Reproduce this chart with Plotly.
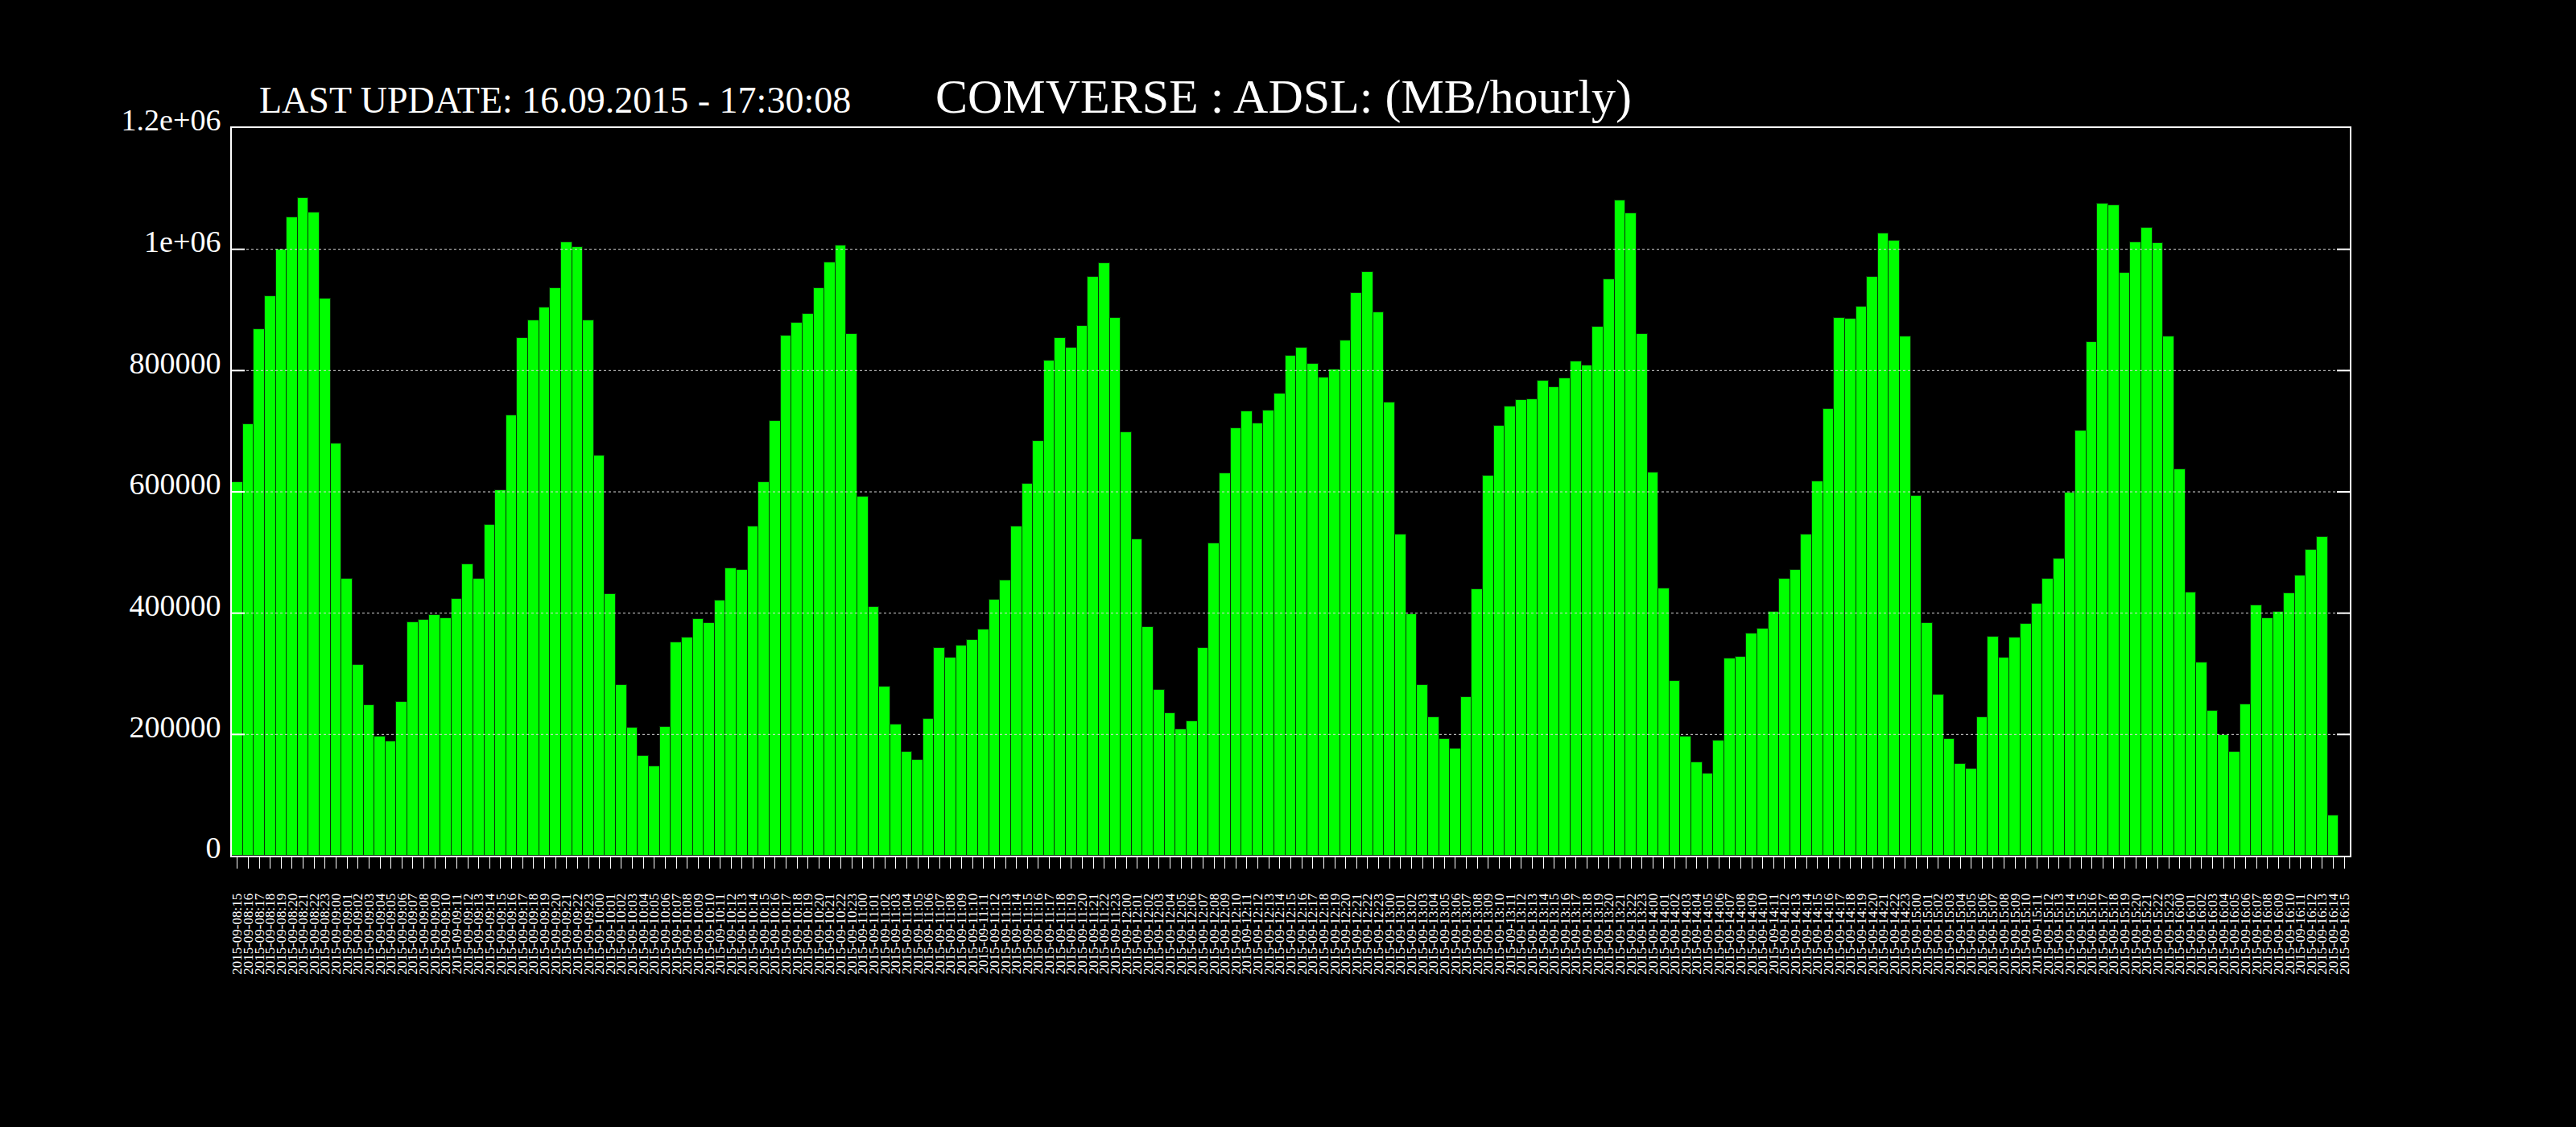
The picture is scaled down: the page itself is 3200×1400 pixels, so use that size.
import plotly.graph_objects as go

# Hourly traffic (MB), one list per calendar day
sep08 = [616000, 712000, 868000, 922000, 1000000, 1053000, 1085000, 1060000, 918000]  # hours 15-23
sep09 = [679000, 456000, 314000, 248000, 197000, 188000, 254000, 385000, 389000, 397000, 392000, 424000,
         481000, 456000, 545000, 602000, 726000, 853000, 883000, 904000, 936000, 1011000, 1004000, 883000]
sep10 = [660000, 431000, 282000, 211000, 164000, 147000, 213000, 352000, 360000, 390000, 383000, 421000,
         474000, 471000, 543000, 616000, 717000, 858000, 879000, 894000, 936000, 978000, 1006000, 860000]
sep11 = [592000, 410000, 279000, 216000, 171000, 158000, 226000, 343000, 326000, 347000, 356000, 373000,
         422000, 454000, 543000, 613000, 684000, 817000, 853000, 837000, 873000, 954000, 977000, 887000]
sep12 = [698000, 522000, 377000, 273000, 235000, 208000, 222000, 343000, 515000, 630000, 705000, 733000,
         713000, 734000, 762000, 825000, 837000, 811000, 788000, 802000, 849000, 928000, 962000, 896000]
sep13 = [748000, 530000, 398000, 282000, 228000, 192000, 177000, 262000, 439000, 627000, 709000, 741000,
         751000, 752000, 783000, 772000, 787000, 815000, 808000, 872000, 951000, 1081000, 1059000, 860000]
sep14 = [632000, 441000, 288000, 197000, 154000, 136000, 190000, 325000, 328000, 366000, 375000, 402000,
         456000, 471000, 530000, 617000, 737000, 887000, 886000, 905000, 954000, 1026000, 1014000, 856000]
sep15 = [594000, 383000, 265000, 192000, 151000, 143000, 228000, 361000, 326000, 360000, 382000, 415000,
         456000, 490000, 599000, 701000, 847000, 1075000, 1072000, 961000, 1011000, 1036000, 1010000, 856000]
sep16 = [637000, 434000, 318000, 239000, 199000, 171000, 250000, 413000, 392000, 402000, 433000, 462000,
         505000, 526000, 67000, None]  # hours 00-15 (15 has no value yet)

day_series = [("08", 15, sep08), ("09", 0, sep09), ("10", 0, sep10), ("11", 0, sep11), ("12", 0, sep12),
              ("13", 0, sep13), ("14", 0, sep14), ("15", 0, sep15), ("16", 0, sep16)]

categories = []
values = []
for day, first_hour, vals in day_series:
    for i, v in enumerate(vals):
        categories.append(f"2015-09-{day}:{first_hour + i:02d}")
        values.append(v)

y_tickvals = [0, 200000, 400000, 600000, 800000, 1000000, 1200000]
y_ticktext = ["0", "200000", "400000", "600000", "800000", "1e+06", "1.2e+06"]

title_text = "COMVERSE : ADSL: (MB/hourly)"
update_text = "LAST UPDATE: 16.09.2015 - 17:30:08"

FONT = "Liberation Serif"

fig = go.Figure()
fig.add_trace(go.Bar(
    x=categories, y=values,
    marker=dict(color="#00ff00", line=dict(color="#0b2e0b", width=1)),
    showlegend=False,
))

# dotted grid drawn above the bars + white inner ticks on both sides
shapes = []
for yv in y_tickvals[1:-1]:
    shapes.append(dict(type="line", xref="paper", yref="y", x0=0, x1=1, y0=yv, y1=yv,
                       line=dict(color="#d8d8d8", width=1, dash="dot"), layer="above"))
    shapes.append(dict(type="line", xref="paper", yref="y", x0=0, x1=16 / 2631, y0=yv, y1=yv,
                       line=dict(color="white", width=2), layer="above"))
    shapes.append(dict(type="line", xref="paper", yref="y", x0=1 - 16 / 2631, x1=1, y0=yv, y1=yv,
                       line=dict(color="white", width=2), layer="above"))

fig.update_layout(
    width=3200, height=1400,
    paper_bgcolor="black", plot_bgcolor="black",
    margin=dict(l=288, r=281, t=159, b=337),
    bargap=0,
    font=dict(family=FONT, color="white"),
    shapes=shapes,
    annotations=[
        dict(text=update_text, xref="paper", yref="paper", x=(320 - 288) / 2631, y=(1063 - 124) / 904,
             xanchor="left", yanchor="middle", showarrow=False,
             font=dict(family=FONT, size=46, color="white")),
        dict(text=title_text, xref="paper", yref="paper", x=(1594 - 288) / 2631, y=(1063 - 120) / 904,
             xanchor="center", yanchor="middle", showarrow=False,
             font=dict(family=FONT, size=60, color="white")),
    ],
)

fig.update_xaxes(
    type="category", range=[-0.5, len(categories) - 0.5],
    tickmode="array", tickvals=categories, ticktext=categories,
    tickangle=-90, tickfont=dict(family=FONT, size=17, color="white"),
    ticks="outside", ticklen=14, tickcolor="white", tickwidth=1,
    showline=True, linecolor="white", linewidth=2, mirror=True,
    showgrid=False, ticklabelstandoff=24,
)
fig.update_yaxes(
    range=[0, 1200000], tickmode="array", tickvals=y_tickvals, ticktext=y_ticktext,
    tickfont=dict(family=FONT, size=38, color="white"),
    ticks="", showgrid=False, zeroline=False,
    showline=True, linecolor="white", linewidth=2, mirror=True,
    ticklabelstandoff=4, ticklabelshift=-10,
)

fig.write_html("out.html")
